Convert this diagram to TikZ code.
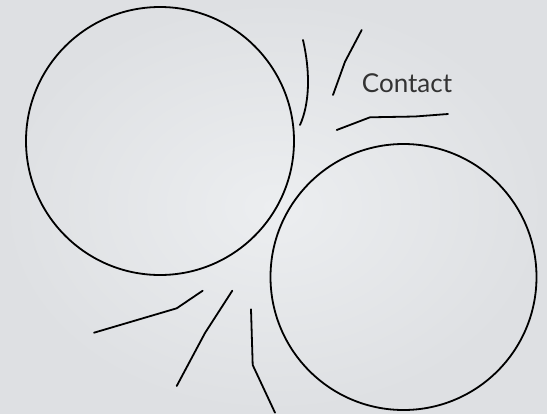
\documentclass[tikz,border=0pt]{standalone}
\usepackage{fontspec}
\setmainfont{Lato}
\begin{document}
\begin{tikzpicture}[x=1pt,y=-1pt,
  stroke/.style={line width=1.8pt,black,line cap=round,line join=round},
  ball/.style={circle,draw,line width=1.8pt,inner sep=0pt},
  lbl/.style={text=black!80,font=\fontsize{26}{30}\selectfont,inner sep=0pt,anchor=base}]
\shade[inner color={rgb,255:red,236;green,238;blue,240},outer color={rgb,255:red,222;green,224;blue,227}] (0,0) rectangle (547,413);
\useasboundingbox (0,0) rectangle (547,413);
\node[ball,minimum size=268pt] (c1) at (160,141) {};
\node[ball,minimum size=266pt] (c2) at (403.5,277) {};
\node[lbl] (t) at (407,92) {Contact};
% upper strokes
\draw[stroke] (303,40) .. controls (311,75) and (309,105) .. (300,125);
\draw[stroke] (361.7,30) -- (345,61.7) -- (333,95);
\draw[stroke] (336.7,130) -- (370,117.3) -- (415,116.5) -- (448,114);
% lower strokes
\draw[stroke] (202.7,290.7) -- (176.7,308.3) -- (94,332.7);
\draw[stroke] (232.3,290.7) -- (205,333) -- (176.7,386);
\draw[stroke] (251,309.3) -- (252.7,365) -- (275,412.7);
\end{tikzpicture}
\end{document}
